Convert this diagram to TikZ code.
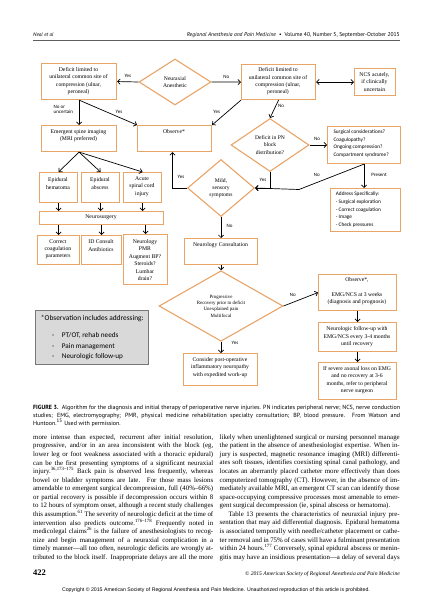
\documentclass[tikz,border=0pt]{standalone}
\usepackage{fontspec}
\setmainfont{Liberation Serif}
\newfontfamily\calfont{Carlito}
\newfontfamily\ptfont{PT Sans}
\newfontfamily\arialfont{Liberation Sans}
\usetikzlibrary{shapes.geometric,arrows.meta}
\definecolor{boxorange}{RGB}{233,164,104}
\definecolor{obsgray}{RGB}{217,217,217}
\definecolor{obsedge}{RGB}{120,120,120}
\definecolor{rulegray}{RGB}{95,95,95}
\newcommand\bx[6][]{\node[box,anchor=north west,minimum width={(#5-#3)*1pt},minimum height={(#6-#4)*1pt},#1] (#2) at (#3,#4) {};}
\newcommand\jl[1]{\makebox[180pt][s]{#1}}
\newcommand\cl[1]{\makebox[367pt][s]{#1}}
\begin{document}
\begin{tikzpicture}[x=1pt,y=-1pt,
  box/.style={draw=boxorange, line width=1.1pt, inner sep=0pt},
  dia/.style={diamond, draw=boxorange, line width=1.1pt, inner sep=0pt, align=center, font=\fontsize{5.6}{7.3}\selectfont},
  stxt/.style={font=\fontsize{5.7}{7.4}\selectfont, align=center, inner sep=0pt},
  ctxt/.style={font=\calfont\fontsize{5.3}{7.6}\selectfont, align=left, inner sep=0pt},
  lbl/.style={font=\calfont\fontsize{5}{5.8}\selectfont, inner sep=0pt},
  arr/.style={draw=black, line width=0.7pt, -{Straight Barb[length=2.6pt,width=5.2pt]}},
  body/.style={font=\fontsize{6.85}{8.57}\selectfont, align=left, inner sep=0pt, anchor=north west},
]
\useasboundingbox[fill=white] (0,0) rectangle (432,599);

% header
\node[anchor=base west, inner sep=0pt, font=\ptfont\itshape\fontsize{5.2}{6}\selectfont] (hdl) at (33,36.5) {Neal et al};
\node[anchor=base east, inner sep=0pt, font=\ptfont\fontsize{5.6}{6}\selectfont] (hdr) at (400,36.5) {\itshape Regional Anesthesia and Pain Medicine\upshape\ \ \textbullet\ \ Volume 40, Number 5, September-October 2015};
\draw[rulegray, line width=1.4pt] (33,40.6) -- (400,40.6);

% top row
\bx{A}{41}{63}{116}{99}
\node[stxt] (At) at (78.5,81.2) {Deficit limited to\\unilateral common site of\\compression (ulnar,\\peroneal)};
\node[dia, minimum width=72pt, minimum height=46pt] (B) at (175,82) {Neuraxial\\Anesthetic};
\bx{C}{241}{64}{315}{99}
\node[stxt] (Ct) at (278,81.5) {Deficit limited to\\unilateral common site of\\compression (ulnar,\\peroneal)};
\bx{D}{354}{68}{395}{95}
\node[stxt] (Dt) at (374.5,81.8) {NCS acutely,\\if clinically\\uncertain};

% second row
\bx{G}{41}{125}{116}{151}
\node[stxt] (Gt) at (78.5,135.9) {Emergent spine imaging\\(MRI preferred)};
\bx{Obs}{137}{125}{211}{151}
\node[stxt] (Obst) at (174,132) {Observe*};
\node[dia, minimum width=78pt, minimum height=53pt] (E) at (270,145) {Deficit in PN\\block\\distribution?};
\bx{F}{327}{126}{400}{163}
\node[ctxt, anchor=west] (Ft) at (333.3,143.7) {Surgical considerations?\\Coagulopathy?\\Ongoing compression?\\Compartment syndrome?};

% third row
\bx{H1}{39}{172}{77}{202}
\node[stxt] (H1t) at (58,183.7) {Epidural\\hematoma};
\bx{H2}{81}{172}{119}{202}
\node[stxt] (H2t) at (100,183.7) {Epidural\\abscess};
\bx{H3}{123}{172}{161}{202}
\node[stxt] (H3t) at (142,186.7) {Acute\\spinal cord\\injury};
\node[dia, minimum width=67pt, minimum height=57pt] (M) at (221,188) {Mild,\\sensory\\symptoms};
\bx{Ad}{330}{188}{400}{231}
\node[ctxt, anchor=west] (Adt) at (335.7,209.7) {Address Specifically:\\- Surgical exploration\\- Correct coagulation\\- Image\\- Check pressures};

% neurosurgery
\bx{NS}{39}{211}{163}{224}
\node[stxt] (NSt) at (101,217.5) {Neurosurgery};
\bx{K1}{37}{235}{79}{264}
\node[stxt] (K1t) at (58,249.2) {Correct\\coagulation\\parameters};
\bx{K2}{81}{235}{121}{264}
\node[stxt] (K2t) at (101,245.5) {ID Consult\\Antibiotics};
\bx{K3}{123}{234}{167}{284}
\node[stxt] (K3t) at (145,260) {Neurology\\PMR\\Augment BP?\\Steroids?\\Lumbar\\drain?};
\bx{NC}{184}{238}{257}{264}
\node[stxt] (NCt) at (220.5,245) {Neurology Consultation};

% lower part
\node[dia, minimum width=124pt, minimum height=64pt, font=\fontsize{4.9}{6.3}\selectfont] (P) at (221,306) {Progressive\\Recovery prior to deficit\\Unexplained pain\\Multifocal};
\bx{O2}{318}{274}{396}{310}
\node[stxt] (O2t) at (357,291.5) {Observe*,\\[7.4pt]EMG/NCS at 3 weeks\\(diagnosis and prognosis)};
\bx{FU}{318}{322}{396}{351}
\node[stxt] (FUt) at (357,336.7) {Neurologic follow-up with\\EMG/NCS every 3-4 months\\until recovery};
\bx{SV}{318}{362}{396}{399}
\node[stxt] (SVt) at (357,380.3) {If severe axonal loss on EMG\\and no recovery at 3-6\\months, refer to peripheral\\nerve surgeon};
\bx{CP}{183}{353}{257}{385}
\node[stxt] (CPt) at (220,367.3) {Consider post-operative\\inflammatory neuropathy\\with expedited work-up};

% observation note
\node[draw=obsedge, fill=obsgray, line width=0.8pt, anchor=north west, minimum width=113pt, minimum height=54pt, inner sep=0pt] (ON) at (35,310) {};
\node[font=\calfont\fontsize{7.4}{9}\selectfont, inner sep=0pt] (ONt) at (92.3,318.3) {*Observation includes addressing:};
\node[font=\calfont\fontsize{7.2}{10.5}\selectfont, anchor=west, inner sep=0pt, align=left] (ONl) at (52,346.2) {-\hspace{7.5pt}PT/OT, rehab needs\\-\hspace{7.5pt}Pain management\\-\hspace{7.5pt}Neurologic follow-up};

% connectors
\coordinate (kNo) at (299,189.5);
\draw[arr] (B.west) -- node[lbl, above=3.5pt] (l1) {Yes} (A.east);
\draw[arr] (B.east) -- node[lbl, above=3.5pt] (l2) {No} (C.west);
\draw[arr, {Straight Barb[length=2.6pt,width=5.2pt]}-{Straight Barb[length=2.6pt,width=5.2pt]}] (C.east) -- (D.west);
\draw[arr] (A.south) -- (G.north);
\node[lbl, anchor=west, align=left] (l3) at (53.5,109.5) {No or\\uncertain};
\draw[arr] (A.south) -- (Obs.north west);
\node[lbl] (l4) at (119,111.7) {Yes};
\draw[arr] (C.south west) -- (Obs.north east);
\node[lbl] (l5) at (216.7,111.7) {Yes};
\draw[arr] (C.south) -- (E.north);
\node[lbl] (l6) at (281,106) {No};
\draw[arr] (E.east) -- (E.east -| F.west);
\node[lbl] (l7) at (317,139) {No};
\draw[arr] (E.south) |- (M.east);
\node[lbl] (l8) at (263,180) {Yes};
\draw[arr] (F.south) -- (F.south |- Ad.north);
\node[lbl] (l9) at (379,175) {Present};
\draw[arr] (F.south) -- (kNo) -- (M.east);
\node[lbl] (l10) at (316.7,175) {No};
\draw[arr] (M.west) -| ([xshift=-2pt]Obs.south);
\node[lbl] (l11) at (181,177) {Yes};
\draw[arr] (M.south) -- (M.south |- NC.north);
\node[lbl] (l12) at (229.5,225.7) {No};
\draw[arr] (NC.south) -- (NC.south |- P.north);
\draw[arr] (P.east) -- (O2.west);
\node[lbl] (l13) at (292.7,295) {No};
\draw[arr] (P.south) -- (P.south |- CP.north);
\node[lbl] (l14) at (235,342.7) {Yes};
\draw[arr] (O2.south) -- (FU.north);
\draw[arr] (FU.south) -- (SV.north);
\draw[arr] (G.south) -- (H1.north);
\draw[arr] (G.south) -- (H2.north);
\draw[arr] (G.south) -- (H3.north);
\draw[arr] (H1.south) -- (H1.south |- NS.north);
\draw[arr] (H2.south) -- (H2.south |- NS.north);
\draw[arr] (H3.south) -- (H3.south |- NS.north);
\draw[arr] (K1.north |- NS.south) -- (K1.north);
\draw[arr] (K2.north |- NS.south) -- (K2.north);
\draw[arr] (K3.north |- NS.south) -- (K3.north);

% caption
\node[anchor=north west, inner sep=0pt, align=left, font=\ptfont\fontsize{6}{7.1}\selectfont] (cap) at (33,405.5) {\cl{\textbf{FIGURE 3.}\ \ Algorithm for the diagnosis and initial therapy of perioperative nerve injuries. PN indicates peripheral nerve; NCS, nerve conduction}\\\cl{studies; EMG, electromyography; PMR, physical medicine rehabilitation specialty consultation; BP, blood pressure. From Watson and}\\Huntoon.\textsuperscript{15} Used with permission.};

% body text
\node[body] (lcol) at (33,434.3) {%
\jl{more intense than expected, recurrent after initial resolution,}\\
\jl{progressive, and/or in an area inconsistent with the block (eg,}\\
\jl{lower leg or foot weakness associated with a thoracic epidural)}\\
\jl{can be the first presenting symptoms of a significant neuraxial}\\
\jl{injury.\textsuperscript{36,173--175} Back pain is observed less frequently, whereas}\\
\jl{bowel or bladder symptoms are late. For those mass lesions}\\
\jl{amendable to emergent surgical decompression, full (40\%--66\%)}\\
\jl{or partial recovery is possible if decompression occurs within 8}\\
\jl{to 12 hours of symptom onset, although a recent study challenges}\\
\jl{this assumption.\textsuperscript{61} The severity of neurologic deficit at the time of}\\
\jl{intervention also predicts outcome.\textsuperscript{176--178} Frequently noted in}\\
\jl{medicolegal claims\textsuperscript{26} is the failure of anesthesiologists to recog-}\\
\jl{nize and begin management of a neuraxial complication in a}\\
\jl{timely manner---all too often, neurologic deficits are wrongly at-}\\
\jl{tributed to the block itself. Inappropriate delays are all the more}};
\node[body] (rcol) at (219.5,434.3) {%
\jl{likely when unenlightened surgical or nursing personnel manage}\\
\jl{the patient in the absence of anesthesiologist expertise. When in-}\\
\jl{jury is suspected, magnetic resonance imaging (MRI) differenti-}\\
\jl{ates soft tissues, identifies coexisting spinal canal pathology, and}\\
\jl{locates an aberrantly placed catheter more effectively than does}\\
\jl{computerized tomography (CT). However, in the absence of im-}\\
\jl{mediately available MRI, an emergent CT scan can identify those}\\
\jl{space-occupying compressive processes most amenable to emer-}\\
gent surgical decompression (ie, spinal abscess or hematoma).\\
\jl{\hspace*{9pt}Table 13 presents the characteristics of neuraxial injury pre-}\\
\jl{sentation that may aid differential diagnosis. Epidural hematoma}\\
\jl{is associated temporally with needle/catheter placement or cathe-}\\
\jl{ter removal and in 75\% of cases will have a fulminant presentation}\\
\jl{within 24 hours.\textsuperscript{177} Conversely, spinal epidural abscess or menin-}\\
\jl{gitis may have an insidious presentation---a delay of several days}};

% footer
\node[anchor=base west, inner sep=0pt, font=\bfseries\fontsize{8.5}{9}\selectfont] (pg) at (33,575) {422};
\node[anchor=base east, inner sep=0pt, font=\itshape\fontsize{5.6}{6}\selectfont] (cpr) at (400,575) {\textcopyright\ 2015 American Society of Regional Anesthesia and Pain Medicine};
\node[inner sep=0pt, font=\arialfont\fontsize{5.2}{6}\selectfont] (cpy) at (216,590) {Copyright \textcopyright\ 2015 American Society of Regional Anesthesia and Pain Medicine. Unauthorized reproduction of this article is prohibited.};
\end{tikzpicture}
\end{document}
